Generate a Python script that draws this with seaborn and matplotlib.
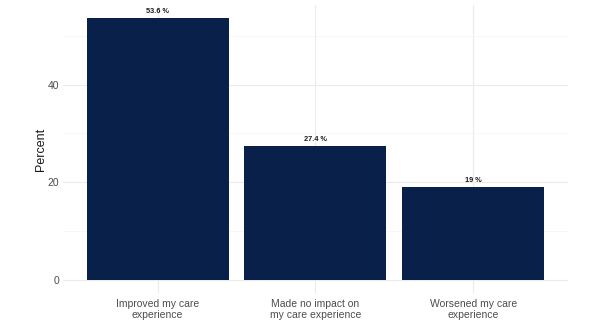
import matplotlib
matplotlib.use("Agg")
import matplotlib.pyplot as plt
import seaborn as sns
import pandas as pd
from matplotlib.ticker import MultipleLocator

categories = ["Improved my care\nexperience", "Made no impact on\nmy care experience", "Worsened my care\nexperience"]
values = [53.6, 27.4, 19.0]
labels = ["53.6 %", "27.4 %", "19 %"]

sns.set_theme(style="white")
plt.rcParams['font.family'] = ['Liberation Sans', 'DejaVu Sans']

df = pd.DataFrame({"cat": categories, "pct": values})

fig = plt.figure(figsize=(6.06, 3.26), dpi=100)
ax = fig.add_axes([0.104, 0.101, 0.833, 0.884])
sns.barplot(data=df, x="cat", y="pct", color="#08204A", width=0.9, saturation=1,
            linewidth=0, ax=ax, zorder=3)

for i, (v, t) in enumerate(zip(values, labels)):
    ax.text(i, v + 0.6, t, ha="center", va="bottom", fontsize=5.3, fontweight="bold", color="#1a1a1a", zorder=4)

ax.set_xlim(-0.6, 2.6)
ax.set_ylim(-2.68, 56.3)
ax.yaxis.set_major_locator(MultipleLocator(20))
ax.yaxis.set_minor_locator(MultipleLocator(10))
ax.grid(which="major", axis="both", color="#EBEBEB", linewidth=0.8, zorder=0)
ax.grid(which="minor", axis="y", color="#F4F4F4", linewidth=0.5, zorder=0)
ax.set_axisbelow(True)
for s in ax.spines.values():
    s.set_visible(False)
ax.set_xlabel("")
ax.set_ylabel("Percent", fontsize=9, color="#1a1a1a", labelpad=1)
ax.tick_params(axis="y", which="both", length=0, labelsize=7.5, labelcolor="#4D4D4D", pad=2.5)
ax.tick_params(axis="x", which="both", length=0, labelsize=7.5, labelcolor="#4D4D4D", pad=4)

fig.savefig("out.png", dpi=100, facecolor="white")
